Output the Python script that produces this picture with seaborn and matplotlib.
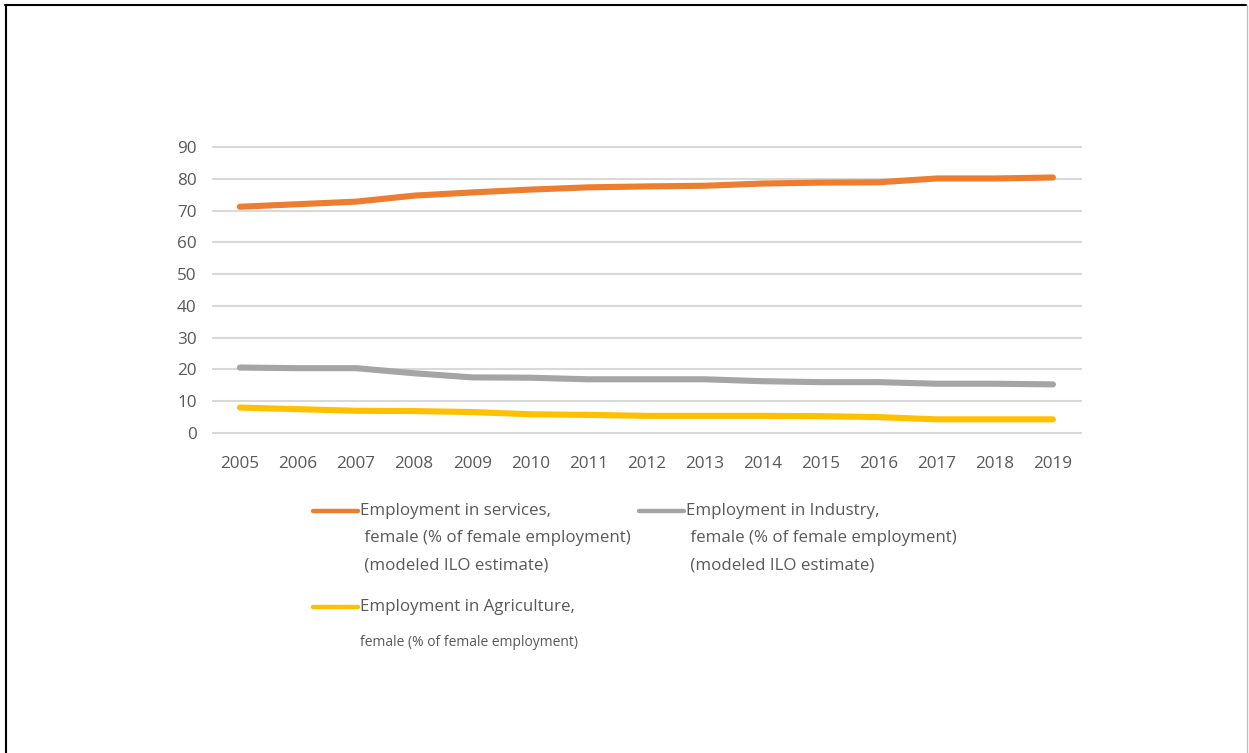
import numpy as np
import pandas as pd
import seaborn as sns
import matplotlib.pyplot as plt
from matplotlib.lines import Line2D

# Female employment by sector, % of female employment
years = list(range(2005, 2020))
services = [71.2, 72.0, 72.8, 74.7, 75.7, 76.6, 77.3, 77.6, 77.8, 78.5, 78.8, 78.9, 80.1, 80.1, 80.4]
industry = [20.6, 20.4, 20.4, 18.8, 17.5, 17.4, 16.9, 16.9, 16.9, 16.3, 16.0, 16.0, 15.5, 15.5, 15.3]
agriculture = [8.0, 7.5, 7.0, 6.9, 6.6, 5.9, 5.7, 5.4, 5.4, 5.4, 5.3, 5.0, 4.3, 4.3, 4.3]
series_names = ["Services", "Industry", "Agriculture"]
y_ticks = [0, 10, 20, 30, 40, 50, 60, 70, 80, 90]

legend_lines = {
    "Services": ["Employment in services,", " female (% of female employment)", " (modeled ILO estimate)"],
    "Industry": ["Employment in Industry,", " female (% of female employment)", " (modeled ILO estimate)"],
    "Agriculture": ["Employment in Agriculture,", "female (% of female employment)"],
}

colors = {"Services": "#ED7D31", "Industry": "#A5A5A5", "Agriculture": "#FFC000"}
TEXT = "#595959"

df = pd.DataFrame({
    "year": years * 3,
    "value": services + industry + agriculture,
    "sector": [s for s in series_names for _ in years],
})

sns.set_theme(style="white")
plt.rcParams["font.family"] = ["Open Sans", "DejaVu Sans"]

W, H = 1249, 753
fig = plt.figure(figsize=(W / 100, H / 100), dpi=100)
fig.patch.set_facecolor("white")


def fx(px):
    return px / W


def fy(py):
    return 1 - py / H


# plot area: y=0 at 433 px, y=90 at 147 px; 2005 at 240 px, 2019 at 1053 px
ppu = (433 - 147) / 90
y_lo, y_hi = -1.0, 91.0
ax_bottom_px = 433 + (0 - y_lo) * ppu
ax_top_px = 147 - (y_hi - 90) * ppu
ax = fig.add_axes([fx(212), fy(ax_bottom_px), fx(1082 - 212), (ax_bottom_px - ax_top_px) / H])

sns.lineplot(data=df, x="year", y="value", hue="sector", palette=colors,
             linewidth=4.4, ax=ax, legend=False, solid_capstyle="round")

ax.set_xlim(2004.52, 2019.5)
ax.set_ylim(y_lo, y_hi)
ax.set_yticks(y_ticks)
ax.set_xticks(years)
ax.set_xticklabels([str(y) for y in years])
ax.set_xlabel("")
ax.set_ylabel("")
for s in ax.spines.values():
    s.set_visible(False)
ax.yaxis.grid(True, color="#D9D9D9", linewidth=1.5)
ax.set_axisbelow(True)
ax.tick_params(axis="both", length=0, labelsize=12.3, labelcolor=TEXT)
ax.tick_params(axis="y", pad=11)
ax.tick_params(axis="x", pad=14)

# legend drawn beneath the plot area
def legend_entry(x_line, x_text, y0, key, dy=27.5, size=12.2, sizes=None):
    fig.add_artist(Line2D([fx(x_line), fx(x_line + 45)], [fy(y0), fy(y0)],
                          color=colors[key], linewidth=3.2, solid_capstyle="round"))
    for i, line in enumerate(legend_lines[key]):
        fs = sizes[i] if sizes else size
        yy = y0 + i * dy
        fig.text(fx(x_text), fy(yy), line, fontsize=fs, color=TEXT,
                 ha="left", va="center", family="Open Sans")


legend_entry(313, 360, 511, "Services")
legend_entry(639, 686, 511, "Industry")
legend_entry(313, 360, 607, "Agriculture", dy=36, sizes=[12.2, 10])

# outer frame
fig.add_artist(Line2D([fx(5), fx(1246)], [fy(5), fy(5)], color="black", linewidth=1.5))
fig.add_artist(Line2D([fx(5.5), fx(5.5)], [fy(5), 0], color="black", linewidth=1.5))
fig.add_artist(Line2D([fx(1246.5), fx(1246.5)], [fy(5), 0], color="#BFBFBF", linewidth=1))

fig.savefig("out.png", dpi=100, facecolor="white")
